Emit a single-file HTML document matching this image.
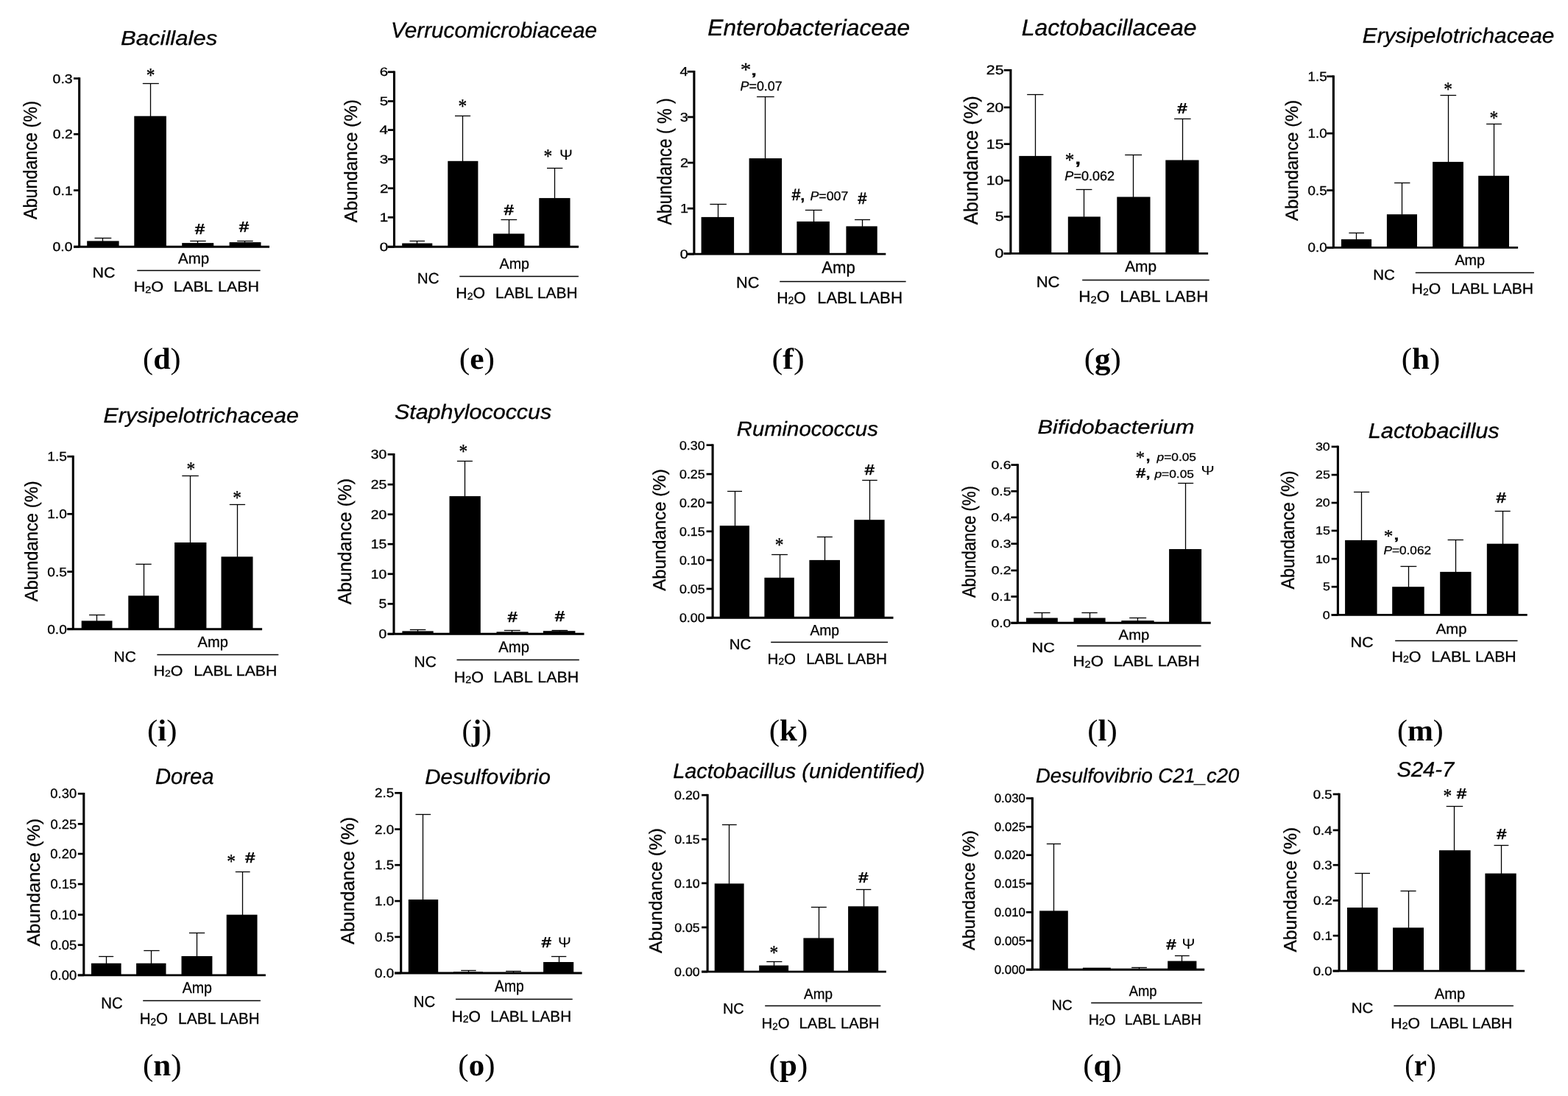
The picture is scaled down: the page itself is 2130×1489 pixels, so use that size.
<!DOCTYPE html>
<html><head><meta charset="utf-8"><title>Figure</title><style>html,body{margin:0;padding:0;background:#fff;overflow:hidden}svg{display:block}text{stroke:#000;stroke-width:0.3px;paint-order:stroke}</style></head><body>
<svg width="2130" height="1489" viewBox="0 0 2130 1489" shape-rendering="auto" text-rendering="geometricPrecision">
<rect width="2130" height="1489" fill="#fff"/>
<g id="panel-d">
<rect x="118.20" y="327.40" width="43.40" height="7.80" fill="#000"/>
<line x1="139.50" y1="327.90" x2="139.50" y2="323.50" stroke="#000" stroke-width="1.3"/>
<line x1="128.50" y1="323.50" x2="151.30" y2="323.50" stroke="#000" stroke-width="1.3"/>
<rect x="182.30" y="157.70" width="43.60" height="177.50" fill="#000"/>
<line x1="204.50" y1="158.20" x2="204.50" y2="113.50" stroke="#000" stroke-width="1.3"/>
<line x1="193.80" y1="113.50" x2="215.80" y2="113.50" stroke="#000" stroke-width="1.3"/>
<rect x="247.20" y="330.10" width="43.00" height="5.10" fill="#000"/>
<line x1="268.50" y1="330.60" x2="268.50" y2="327.50" stroke="#000" stroke-width="1.3"/>
<line x1="258.20" y1="327.50" x2="279.70" y2="327.50" stroke="#000" stroke-width="1.3"/>
<rect x="311.60" y="329.10" width="42.90" height="6.10" fill="#000"/>
<line x1="332.50" y1="329.60" x2="332.50" y2="327.50" stroke="#000" stroke-width="1.3"/>
<line x1="322.20" y1="327.50" x2="343.70" y2="327.50" stroke="#000" stroke-width="1.3"/>
<line x1="107.70" y1="105.25" x2="107.70" y2="335.20" stroke="#000" stroke-width="3.1"/>
<line x1="100.00" y1="106.60" x2="107.70" y2="106.60" stroke="#000" stroke-width="2.7"/>
<line x1="100.00" y1="182.30" x2="107.70" y2="182.30" stroke="#000" stroke-width="2.7"/>
<line x1="100.00" y1="258.60" x2="107.70" y2="258.60" stroke="#000" stroke-width="2.7"/>
<line x1="100.00" y1="335.20" x2="107.70" y2="335.20" stroke="#000" stroke-width="2.7"/>
<line x1="100.00" y1="335.20" x2="366.00" y2="335.20" stroke="#000" stroke-width="2.9"/>
<text transform="translate(71.62,112.53) scale(1.1328,1)" font-family="'Liberation Sans', Arial, sans-serif" font-size="17.18" fill="#000">0.3</text>
<text transform="translate(71.82,188.23) scale(1.1328,1)" font-family="'Liberation Sans', Arial, sans-serif" font-size="17.18" fill="#000">0.2</text>
<text transform="translate(71.72,264.53) scale(1.1328,1)" font-family="'Liberation Sans', Arial, sans-serif" font-size="17.18" fill="#000">0.1</text>
<text transform="translate(71.52,341.13) scale(1.1328,1)" font-family="'Liberation Sans', Arial, sans-serif" font-size="17.18" fill="#000">0.0</text>
<text transform="translate(198.72,111.42) scale(0.8664,1)" font-family="'Liberation Serif', 'Times New Roman', serif" font-size="27.12" fill="#000">*</text>
<text transform="translate(264.93,317.85) scale(1.1651,1)" font-family="'Liberation Sans', Arial, sans-serif" font-size="20.00" fill="#000" style="stroke-width:0.7px">#</text>
<text transform="translate(324.93,314.85) scale(1.1651,1)" font-family="'Liberation Sans', Arial, sans-serif" font-size="20.00" fill="#000" style="stroke-width:0.7px">#</text>
<text transform="translate(125.58,377.00) scale(1.0911,1)" font-family="'Liberation Sans', Arial, sans-serif" font-size="19.71" fill="#000">NC</text>
<text transform="translate(242.10,358.20) scale(1.0030,1)" font-family="'Liberation Sans', Arial, sans-serif" font-size="20.43" fill="#000">Amp</text>
<line x1="186.30" y1="367.50" x2="353.60" y2="367.50" stroke="#000" stroke-width="1.6"/>
<text transform="translate(181.66,396.10) scale(1.1182,1)" font-family="'Liberation Sans', Arial, sans-serif" font-size="19.43" fill="#000">H<tspan font-size="12.82" dy="1.65">2</tspan><tspan dy="-1.65">O</tspan></text>
<text transform="translate(235.86,396.10) scale(1.1038,1)" font-family="'Liberation Sans', Arial, sans-serif" font-size="19.71" fill="#000">LABL</text>
<text transform="translate(296.09,396.10) scale(1.0872,1)" font-family="'Liberation Sans', Arial, sans-serif" font-size="19.71" fill="#000">LABH</text>
<text transform="translate(49.66,298.10) rotate(-90) scale(0.9028,1)" font-family="'Liberation Sans', Arial, sans-serif" font-size="25.88" fill="#000">Abundance (%)</text>
<text transform="translate(163.97,61.00) scale(1.1359,1)" font-family="'Liberation Sans', Arial, sans-serif" font-style="italic" font-size="27.39" fill="#000">Bacillales</text>
<text transform="translate(194.10,500.86) scale(1.0247,1)" font-family="'Liberation Serif', 'Times New Roman', serif" font-size="41.10" fill="#000" style="stroke-width:0px">(<tspan font-weight="bold">d</tspan>)</text>
</g>
<g id="panel-e">
<rect x="546.20" y="330.50" width="41.10" height="4.80" fill="#000"/>
<line x1="566.50" y1="331.00" x2="566.50" y2="327.50" stroke="#000" stroke-width="1.3"/>
<line x1="556.50" y1="327.50" x2="577.00" y2="327.50" stroke="#000" stroke-width="1.3"/>
<rect x="608.30" y="218.80" width="41.10" height="116.50" fill="#000"/>
<line x1="628.50" y1="219.30" x2="628.50" y2="157.50" stroke="#000" stroke-width="1.3"/>
<line x1="618.00" y1="157.50" x2="639.10" y2="157.50" stroke="#000" stroke-width="1.3"/>
<rect x="670.00" y="317.50" width="42.40" height="17.80" fill="#000"/>
<line x1="691.50" y1="318.00" x2="691.50" y2="298.50" stroke="#000" stroke-width="1.3"/>
<line x1="680.50" y1="298.50" x2="702.20" y2="298.50" stroke="#000" stroke-width="1.3"/>
<rect x="732.30" y="269.10" width="42.20" height="66.20" fill="#000"/>
<line x1="753.50" y1="269.60" x2="753.50" y2="228.50" stroke="#000" stroke-width="1.3"/>
<line x1="743.00" y1="228.50" x2="764.30" y2="228.50" stroke="#000" stroke-width="1.3"/>
<line x1="535.50" y1="96.45" x2="535.50" y2="335.30" stroke="#000" stroke-width="3.1"/>
<line x1="526.80" y1="97.80" x2="535.50" y2="97.80" stroke="#000" stroke-width="2.7"/>
<line x1="526.80" y1="137.50" x2="535.50" y2="137.50" stroke="#000" stroke-width="2.7"/>
<line x1="526.80" y1="176.60" x2="535.50" y2="176.60" stroke="#000" stroke-width="2.7"/>
<line x1="526.80" y1="216.30" x2="535.50" y2="216.30" stroke="#000" stroke-width="2.7"/>
<line x1="526.80" y1="255.80" x2="535.50" y2="255.80" stroke="#000" stroke-width="2.7"/>
<line x1="526.80" y1="295.30" x2="535.50" y2="295.30" stroke="#000" stroke-width="2.7"/>
<line x1="526.80" y1="335.30" x2="535.50" y2="335.30" stroke="#000" stroke-width="2.7"/>
<line x1="526.80" y1="335.30" x2="786.00" y2="335.30" stroke="#000" stroke-width="2.9"/>
<text transform="translate(515.77,103.39) scale(1.2746,1)" font-family="'Liberation Sans', Arial, sans-serif" font-size="16.20" fill="#000">6</text>
<text transform="translate(515.77,143.09) scale(1.2567,1)" font-family="'Liberation Sans', Arial, sans-serif" font-size="16.43" fill="#000">5</text>
<text transform="translate(515.56,182.35) scale(1.2387,1)" font-family="'Liberation Sans', Arial, sans-serif" font-size="16.67" fill="#000">4</text>
<text transform="translate(515.77,221.89) scale(1.2746,1)" font-family="'Liberation Sans', Arial, sans-serif" font-size="16.20" fill="#000">3</text>
<text transform="translate(515.97,261.55) scale(1.2567,1)" font-family="'Liberation Sans', Arial, sans-serif" font-size="16.43" fill="#000">2</text>
<text transform="translate(515.87,301.05) scale(1.2387,1)" font-family="'Liberation Sans', Arial, sans-serif" font-size="16.67" fill="#000">1</text>
<text transform="translate(515.66,340.89) scale(1.2746,1)" font-family="'Liberation Sans', Arial, sans-serif" font-size="16.20" fill="#000">0</text>
<text transform="translate(622.52,153.32) scale(0.8664,1)" font-family="'Liberation Serif', 'Times New Roman', serif" font-size="27.12" fill="#000">*</text>
<text transform="translate(684.73,292.35) scale(1.1651,1)" font-family="'Liberation Sans', Arial, sans-serif" font-size="20.00" fill="#000" style="stroke-width:0.7px">#</text>
<text transform="translate(738.62,220.82) scale(0.8664,1)" font-family="'Liberation Serif', 'Times New Roman', serif" font-size="27.12" fill="#000">*</text>
<text transform="translate(760.05,216.60) scale(1.0877,1)" font-family="'Liberation Sans', Arial, sans-serif" font-size="19.71" fill="#000" style="stroke-width:0px">Ψ</text>
<text transform="translate(566.85,384.60) scale(1.0086,1)" font-family="'Liberation Sans', Arial, sans-serif" font-size="20.43" fill="#000">NC</text>
<text transform="translate(678.50,365.20) scale(0.9710,1)" font-family="'Liberation Sans', Arial, sans-serif" font-size="20.29" fill="#000">Amp</text>
<line x1="624.30" y1="375.50" x2="785.90" y2="375.50" stroke="#000" stroke-width="1.6"/>
<text transform="translate(619.30,404.80) scale(1.0409,1)" font-family="'Liberation Sans', Arial, sans-serif" font-size="20.43" fill="#000">H<tspan font-size="13.48" dy="1.74">2</tspan><tspan dy="-1.74">O</tspan></text>
<text transform="translate(673.12,404.80) scale(1.0105,1)" font-family="'Liberation Sans', Arial, sans-serif" font-size="20.72" fill="#000">LABL</text>
<text transform="translate(729.93,404.80) scale(1.0084,1)" font-family="'Liberation Sans', Arial, sans-serif" font-size="20.72" fill="#000">LABH</text>
<text transform="translate(484.93,302.30) rotate(-90) scale(0.9857,1)" font-family="'Liberation Sans', Arial, sans-serif" font-size="24.60" fill="#000">Abundance (%)</text>
<text transform="translate(530.97,51.00) scale(1.0117,1)" font-family="'Liberation Sans', Arial, sans-serif" font-style="italic" font-size="29.42" fill="#000">Verrucomicrobiaceae</text>
<text transform="translate(623.64,500.86) scale(1.0615,1)" font-family="'Liberation Serif', 'Times New Roman', serif" font-size="41.10" fill="#000" style="stroke-width:0px">(<tspan font-weight="bold">e</tspan>)</text>
</g>
<g id="panel-f">
<rect x="952.60" y="294.90" width="44.50" height="50.20" fill="#000"/>
<line x1="975.50" y1="295.40" x2="975.50" y2="277.50" stroke="#000" stroke-width="1.3"/>
<line x1="964.40" y1="277.50" x2="986.90" y2="277.50" stroke="#000" stroke-width="1.3"/>
<rect x="1017.60" y="215.10" width="44.50" height="130.00" fill="#000"/>
<line x1="1039.50" y1="215.60" x2="1039.50" y2="131.50" stroke="#000" stroke-width="1.3"/>
<line x1="1028.00" y1="131.50" x2="1051.70" y2="131.50" stroke="#000" stroke-width="1.3"/>
<rect x="1082.40" y="300.90" width="44.50" height="44.20" fill="#000"/>
<line x1="1105.50" y1="301.40" x2="1105.50" y2="285.50" stroke="#000" stroke-width="1.3"/>
<line x1="1093.80" y1="285.50" x2="1116.80" y2="285.50" stroke="#000" stroke-width="1.3"/>
<rect x="1149.40" y="307.40" width="42.30" height="37.70" fill="#000"/>
<line x1="1171.50" y1="307.90" x2="1171.50" y2="298.50" stroke="#000" stroke-width="1.3"/>
<line x1="1161.00" y1="298.50" x2="1182.00" y2="298.50" stroke="#000" stroke-width="1.3"/>
<line x1="942.90" y1="95.95" x2="942.90" y2="345.10" stroke="#000" stroke-width="3.1"/>
<line x1="933.70" y1="97.30" x2="942.90" y2="97.30" stroke="#000" stroke-width="2.7"/>
<line x1="933.70" y1="159.00" x2="942.90" y2="159.00" stroke="#000" stroke-width="2.7"/>
<line x1="933.70" y1="221.10" x2="942.90" y2="221.10" stroke="#000" stroke-width="2.7"/>
<line x1="933.70" y1="283.20" x2="942.90" y2="283.20" stroke="#000" stroke-width="2.7"/>
<line x1="933.70" y1="345.10" x2="942.90" y2="345.10" stroke="#000" stroke-width="2.7"/>
<line x1="933.70" y1="345.10" x2="1203.30" y2="345.10" stroke="#000" stroke-width="2.9"/>
<text transform="translate(923.60,103.30) scale(1.1386,1)" font-family="'Liberation Sans', Arial, sans-serif" font-size="17.39" fill="#000">4</text>
<text transform="translate(923.80,164.83) scale(1.1716,1)" font-family="'Liberation Sans', Arial, sans-serif" font-size="16.90" fill="#000">3</text>
<text transform="translate(924.00,227.10) scale(1.1551,1)" font-family="'Liberation Sans', Arial, sans-serif" font-size="17.14" fill="#000">2</text>
<text transform="translate(923.90,289.20) scale(1.1386,1)" font-family="'Liberation Sans', Arial, sans-serif" font-size="17.39" fill="#000">1</text>
<text transform="translate(923.70,350.93) scale(1.1716,1)" font-family="'Liberation Sans', Arial, sans-serif" font-size="16.90" fill="#000">0</text>
<text transform="translate(999.96,391.30) scale(1.0211,1)" font-family="'Liberation Sans', Arial, sans-serif" font-size="21.29" fill="#000">NC</text>
<text transform="translate(1116.20,371.10) scale(0.9666,1)" font-family="'Liberation Sans', Arial, sans-serif" font-size="22.90" fill="#000">Amp</text>
<line x1="1059.20" y1="382.50" x2="1230.60" y2="382.50" stroke="#000" stroke-width="1.6"/>
<text transform="translate(1055.20,411.60) scale(0.9793,1)" font-family="'Liberation Sans', Arial, sans-serif" font-size="21.71" fill="#000">H<tspan font-size="14.33" dy="1.85">2</tspan><tspan dy="-1.85">O</tspan></text>
<text transform="translate(1110.35,411.60) scale(0.9915,1)" font-family="'Liberation Sans', Arial, sans-serif" font-size="22.03" fill="#000">LABL</text>
<text transform="translate(1167.82,411.60) scale(1.0117,1)" font-family="'Liberation Sans', Arial, sans-serif" font-size="22.03" fill="#000">LABH</text>
<text transform="translate(1005.64,103.35) scale(1.1238,1)" font-family="'Liberation Serif', 'Times New Roman', serif" font-size="26.03" fill="#000">*</text>
<text transform="translate(1018.40,101.70) scale(1.6786,1)" font-family="'Liberation Sans', Arial, sans-serif" font-size="23.83" fill="#000">,</text>
<text transform="translate(1005.56,122.62) scale(0.9979,1)" font-family="'Liberation Sans', Arial, sans-serif" font-style="italic" font-size="17.89" fill="#000">P<tspan font-style="normal">=0.07</tspan></text>
<text transform="translate(1075.80,271.70) scale(0.9344,1)" font-family="'Liberation Sans', Arial, sans-serif" font-size="22.19" fill="#000" style="stroke-width:0.7px">#</text>
<text transform="translate(1086.11,271.84) scale(1.2347,1)" font-family="'Liberation Sans', Arial, sans-serif" font-size="25.11" fill="#000">,</text>
<text transform="translate(1100.47,271.53) scale(1.0413,1)" font-family="'Liberation Sans', Arial, sans-serif" font-style="italic" font-size="17.04" fill="#000">P<tspan font-style="normal">=007</tspan></text>
<text transform="translate(1165.39,276.50) scale(0.9509,1)" font-family="'Liberation Sans', Arial, sans-serif" font-size="22.19" fill="#000" style="stroke-width:0.7px">#</text>
<text transform="translate(911.87,305.60) rotate(-90) scale(0.8490,1)" font-family="'Liberation Sans', Arial, sans-serif" font-size="27.27" fill="#000">Abundance ( % )</text>
<text transform="translate(961.35,47.60) scale(1.0266,1)" font-family="'Liberation Sans', Arial, sans-serif" font-style="italic" font-size="30.87" fill="#000">Enterobacteriaceae</text>
<text transform="translate(1048.41,500.96) scale(1.0894,1)" font-family="'Liberation Serif', 'Times New Roman', serif" font-size="40.65" fill="#000" style="stroke-width:0px">(<tspan font-weight="bold">f</tspan>)</text>
</g>
<g id="panel-g">
<rect x="1384.30" y="211.90" width="44.00" height="132.50" fill="#000"/>
<line x1="1406.50" y1="212.40" x2="1406.50" y2="128.50" stroke="#000" stroke-width="1.3"/>
<line x1="1395.20" y1="128.50" x2="1417.40" y2="128.50" stroke="#000" stroke-width="1.3"/>
<rect x="1450.80" y="294.40" width="44.00" height="50.00" fill="#000"/>
<line x1="1472.50" y1="294.90" x2="1472.50" y2="257.50" stroke="#000" stroke-width="1.3"/>
<line x1="1461.70" y1="257.50" x2="1483.40" y2="257.50" stroke="#000" stroke-width="1.3"/>
<rect x="1517.30" y="267.50" width="45.20" height="76.90" fill="#000"/>
<line x1="1539.50" y1="268.00" x2="1539.50" y2="210.50" stroke="#000" stroke-width="1.3"/>
<line x1="1528.20" y1="210.50" x2="1551.10" y2="210.50" stroke="#000" stroke-width="1.3"/>
<rect x="1583.30" y="217.50" width="45.20" height="126.90" fill="#000"/>
<line x1="1606.50" y1="218.00" x2="1606.50" y2="161.50" stroke="#000" stroke-width="1.3"/>
<line x1="1595.10" y1="161.50" x2="1617.60" y2="161.50" stroke="#000" stroke-width="1.3"/>
<line x1="1372.90" y1="94.05" x2="1372.90" y2="344.40" stroke="#000" stroke-width="3.1"/>
<line x1="1363.70" y1="95.40" x2="1372.90" y2="95.40" stroke="#000" stroke-width="2.7"/>
<line x1="1363.70" y1="145.90" x2="1372.90" y2="145.90" stroke="#000" stroke-width="2.7"/>
<line x1="1363.70" y1="195.70" x2="1372.90" y2="195.70" stroke="#000" stroke-width="2.7"/>
<line x1="1363.70" y1="245.30" x2="1372.90" y2="245.30" stroke="#000" stroke-width="2.7"/>
<line x1="1363.70" y1="294.40" x2="1372.90" y2="294.40" stroke="#000" stroke-width="2.7"/>
<line x1="1363.70" y1="344.40" x2="1372.90" y2="344.40" stroke="#000" stroke-width="2.7"/>
<line x1="1363.70" y1="344.40" x2="1641.10" y2="344.40" stroke="#000" stroke-width="2.9"/>
<text transform="translate(1339.84,101.47) scale(1.2084,1)" font-family="'Liberation Sans', Arial, sans-serif" font-size="17.61" fill="#000">25</text>
<text transform="translate(1339.73,151.97) scale(1.2084,1)" font-family="'Liberation Sans', Arial, sans-serif" font-size="17.61" fill="#000">20</text>
<text transform="translate(1339.84,201.77) scale(1.1914,1)" font-family="'Liberation Sans', Arial, sans-serif" font-size="17.86" fill="#000">15</text>
<text transform="translate(1339.73,251.37) scale(1.2084,1)" font-family="'Liberation Sans', Arial, sans-serif" font-size="17.61" fill="#000">10</text>
<text transform="translate(1351.64,300.47) scale(1.1914,1)" font-family="'Liberation Sans', Arial, sans-serif" font-size="17.86" fill="#000">5</text>
<text transform="translate(1351.54,350.47) scale(1.2084,1)" font-family="'Liberation Sans', Arial, sans-serif" font-size="17.61" fill="#000">0</text>
<text transform="translate(1599.53,154.25) scale(1.1651,1)" font-family="'Liberation Sans', Arial, sans-serif" font-size="20.00" fill="#000" style="stroke-width:0.7px">#</text>
<text transform="translate(1407.63,389.80) scale(1.0675,1)" font-family="'Liberation Sans', Arial, sans-serif" font-size="20.71" fill="#000">NC</text>
<text transform="translate(1528.20,369.10) scale(0.9919,1)" font-family="'Liberation Sans', Arial, sans-serif" font-size="21.01" fill="#000">Amp</text>
<line x1="1470.20" y1="380.50" x2="1642.70" y2="380.50" stroke="#000" stroke-width="1.6"/>
<text transform="translate(1465.30,410.10) scale(1.0557,1)" font-family="'Liberation Sans', Arial, sans-serif" font-size="21.29" fill="#000">H<tspan font-size="14.05" dy="1.81">2</tspan><tspan dy="-1.81">O</tspan></text>
<text transform="translate(1521.19,410.10) scale(1.0472,1)" font-family="'Liberation Sans', Arial, sans-serif" font-size="21.59" fill="#000">LABL</text>
<text transform="translate(1583.12,410.10) scale(1.0301,1)" font-family="'Liberation Sans', Arial, sans-serif" font-size="21.59" fill="#000">LABH</text>
<text transform="translate(1446.64,226.27) scale(0.9309,1)" font-family="'Liberation Serif', 'Times New Roman', serif" font-size="27.12" fill="#000">*</text>
<text transform="translate(1458.51,223.03) scale(1.3764,1)" font-family="'Liberation Sans', Arial, sans-serif" font-size="29.79" fill="#000">,</text>
<text transform="translate(1446.36,244.72) scale(1.0164,1)" font-family="'Liberation Sans', Arial, sans-serif" font-style="italic" font-size="17.75" fill="#000">P<tspan font-style="normal">=0.062</tspan></text>
<text transform="translate(1328.43,305.30) rotate(-90) scale(0.9577,1)" font-family="'Liberation Sans', Arial, sans-serif" font-size="26.52" fill="#000">Abundance (%)</text>
<text transform="translate(1387.64,47.50) scale(1.0295,1)" font-family="'Liberation Sans', Arial, sans-serif" font-style="italic" font-size="31.01" fill="#000">Lactobacillaceae</text>
<text transform="translate(1472.67,500.71) scale(1.0511,1)" font-family="'Liberation Serif', 'Times New Roman', serif" font-size="40.87" fill="#000" style="stroke-width:0px">(<tspan font-weight="bold">g</tspan>)</text>
</g>
<g id="panel-h">
<rect x="1822.00" y="325.10" width="41.10" height="11.30" fill="#000"/>
<line x1="1842.50" y1="325.60" x2="1842.50" y2="316.50" stroke="#000" stroke-width="1.3"/>
<line x1="1832.40" y1="316.50" x2="1853.00" y2="316.50" stroke="#000" stroke-width="1.3"/>
<rect x="1883.90" y="291.20" width="41.10" height="45.20" fill="#000"/>
<line x1="1904.50" y1="291.70" x2="1904.50" y2="248.50" stroke="#000" stroke-width="1.3"/>
<line x1="1894.10" y1="248.50" x2="1915.40" y2="248.50" stroke="#000" stroke-width="1.3"/>
<rect x="1946.10" y="219.90" width="41.80" height="116.50" fill="#000"/>
<line x1="1967.50" y1="220.40" x2="1967.50" y2="129.50" stroke="#000" stroke-width="1.3"/>
<line x1="1956.50" y1="129.50" x2="1978.20" y2="129.50" stroke="#000" stroke-width="1.3"/>
<rect x="2008.20" y="238.80" width="41.80" height="97.60" fill="#000"/>
<line x1="2029.50" y1="239.30" x2="2029.50" y2="168.50" stroke="#000" stroke-width="1.3"/>
<line x1="2019.10" y1="168.50" x2="2039.90" y2="168.50" stroke="#000" stroke-width="1.3"/>
<line x1="1811.40" y1="102.45" x2="1811.40" y2="336.40" stroke="#000" stroke-width="3.1"/>
<line x1="1802.20" y1="103.80" x2="1811.40" y2="103.80" stroke="#000" stroke-width="2.7"/>
<line x1="1802.20" y1="181.20" x2="1811.40" y2="181.20" stroke="#000" stroke-width="2.7"/>
<line x1="1802.20" y1="258.60" x2="1811.40" y2="258.60" stroke="#000" stroke-width="2.7"/>
<line x1="1802.20" y1="336.40" x2="1811.40" y2="336.40" stroke="#000" stroke-width="2.7"/>
<line x1="1802.20" y1="336.40" x2="2062.10" y2="336.40" stroke="#000" stroke-width="2.9"/>
<text transform="translate(1776.59,109.87) scale(1.0541,1)" font-family="'Liberation Sans', Arial, sans-serif" font-size="17.86" fill="#000">1.5</text>
<text transform="translate(1776.49,187.27) scale(1.0692,1)" font-family="'Liberation Sans', Arial, sans-serif" font-size="17.61" fill="#000">1.0</text>
<text transform="translate(1776.59,264.67) scale(1.0692,1)" font-family="'Liberation Sans', Arial, sans-serif" font-size="17.61" fill="#000">0.5</text>
<text transform="translate(1776.49,342.47) scale(1.0692,1)" font-family="'Liberation Sans', Arial, sans-serif" font-size="17.61" fill="#000">0.0</text>
<text transform="translate(1961.22,129.92) scale(0.8664,1)" font-family="'Liberation Serif', 'Times New Roman', serif" font-size="27.12" fill="#000">*</text>
<text transform="translate(2023.62,168.62) scale(0.8664,1)" font-family="'Liberation Serif', 'Times New Roman', serif" font-size="27.12" fill="#000">*</text>
<text transform="translate(1865.16,379.80) scale(1.0489,1)" font-family="'Liberation Sans', Arial, sans-serif" font-size="19.57" fill="#000">NC</text>
<text transform="translate(1976.40,360.00) scale(0.9901,1)" font-family="'Liberation Sans', Arial, sans-serif" font-size="20.00" fill="#000">Amp</text>
<line x1="1922.80" y1="370.50" x2="2083.90" y2="370.50" stroke="#000" stroke-width="1.6"/>
<text transform="translate(1917.60,399.00) scale(1.0528,1)" font-family="'Liberation Sans', Arial, sans-serif" font-size="20.14" fill="#000">H<tspan font-size="13.29" dy="1.71">2</tspan><tspan dy="-1.71">O</tspan></text>
<text transform="translate(1971.22,399.00) scale(1.0290,1)" font-family="'Liberation Sans', Arial, sans-serif" font-size="20.43" fill="#000">LABL</text>
<text transform="translate(2027.92,399.00) scale(1.0307,1)" font-family="'Liberation Sans', Arial, sans-serif" font-size="20.43" fill="#000">LABH</text>
<text transform="translate(1763.27,299.90) rotate(-90) scale(0.9937,1)" font-family="'Liberation Sans', Arial, sans-serif" font-size="23.96" fill="#000">Abundance (%)</text>
<text transform="translate(1850.80,58.20) scale(1.0463,1)" font-family="'Liberation Sans', Arial, sans-serif" font-style="italic" font-size="28.55" fill="#000">Erysipelotrichaceae</text>
<text transform="translate(1903.67,500.86) scale(1.0461,1)" font-family="'Liberation Serif', 'Times New Roman', serif" font-size="41.10" fill="#000" style="stroke-width:0px">(<tspan font-weight="bold">h</tspan>)</text>
</g>
<g id="panel-i">
<rect x="110.70" y="843.40" width="41.80" height="11.30" fill="#000"/>
<line x1="131.50" y1="843.90" x2="131.50" y2="835.50" stroke="#000" stroke-width="1.3"/>
<line x1="121.10" y1="835.50" x2="142.60" y2="835.50" stroke="#000" stroke-width="1.3"/>
<rect x="174.30" y="809.30" width="41.50" height="45.40" fill="#000"/>
<line x1="195.50" y1="809.80" x2="195.50" y2="766.50" stroke="#000" stroke-width="1.3"/>
<line x1="184.40" y1="766.50" x2="205.70" y2="766.50" stroke="#000" stroke-width="1.3"/>
<rect x="237.10" y="737.00" width="43.30" height="117.70" fill="#000"/>
<line x1="258.50" y1="737.50" x2="258.50" y2="646.50" stroke="#000" stroke-width="1.3"/>
<line x1="247.30" y1="646.50" x2="269.80" y2="646.50" stroke="#000" stroke-width="1.3"/>
<rect x="300.50" y="756.30" width="43.00" height="98.40" fill="#000"/>
<line x1="322.50" y1="756.80" x2="322.50" y2="685.50" stroke="#000" stroke-width="1.3"/>
<line x1="311.80" y1="685.50" x2="333.10" y2="685.50" stroke="#000" stroke-width="1.3"/>
<line x1="99.30" y1="618.85" x2="99.30" y2="854.70" stroke="#000" stroke-width="3.1"/>
<line x1="91.30" y1="620.20" x2="99.30" y2="620.20" stroke="#000" stroke-width="2.7"/>
<line x1="91.30" y1="698.30" x2="99.30" y2="698.30" stroke="#000" stroke-width="2.7"/>
<line x1="91.30" y1="776.70" x2="99.30" y2="776.70" stroke="#000" stroke-width="2.7"/>
<line x1="91.30" y1="854.70" x2="99.30" y2="854.70" stroke="#000" stroke-width="2.7"/>
<line x1="91.30" y1="854.70" x2="356.10" y2="854.70" stroke="#000" stroke-width="2.9"/>
<text transform="translate(64.26,626.13) scale(1.1025,1)" font-family="'Liberation Sans', Arial, sans-serif" font-size="17.43" fill="#000">1.5</text>
<text transform="translate(64.16,704.23) scale(1.1183,1)" font-family="'Liberation Sans', Arial, sans-serif" font-size="17.18" fill="#000">1.0</text>
<text transform="translate(64.26,782.63) scale(1.1183,1)" font-family="'Liberation Sans', Arial, sans-serif" font-size="17.18" fill="#000">0.5</text>
<text transform="translate(64.16,860.63) scale(1.1183,1)" font-family="'Liberation Sans', Arial, sans-serif" font-size="17.18" fill="#000">0.0</text>
<text transform="translate(253.52,646.32) scale(0.8664,1)" font-family="'Liberation Serif', 'Times New Roman', serif" font-size="27.12" fill="#000">*</text>
<text transform="translate(316.32,685.02) scale(0.8664,1)" font-family="'Liberation Serif', 'Times New Roman', serif" font-size="27.12" fill="#000">*</text>
<text transform="translate(154.52,899.00) scale(1.0416,1)" font-family="'Liberation Sans', Arial, sans-serif" font-size="20.14" fill="#000">NC</text>
<text transform="translate(268.50,879.10) scale(0.9836,1)" font-family="'Liberation Sans', Arial, sans-serif" font-size="20.43" fill="#000">Amp</text>
<line x1="213.40" y1="889.50" x2="378.30" y2="889.50" stroke="#000" stroke-width="1.6"/>
<text transform="translate(208.49,917.80) scale(1.1086,1)" font-family="'Liberation Sans', Arial, sans-serif" font-size="19.29" fill="#000">H<tspan font-size="12.73" dy="1.64">2</tspan><tspan dy="-1.64">O</tspan></text>
<text transform="translate(263.29,917.80) scale(1.0923,1)" font-family="'Liberation Sans', Arial, sans-serif" font-size="19.57" fill="#000">LABL</text>
<text transform="translate(320.80,917.80) scale(1.0890,1)" font-family="'Liberation Sans', Arial, sans-serif" font-size="19.57" fill="#000">LABH</text>
<text transform="translate(51.09,817.30) rotate(-90) scale(0.9595,1)" font-family="'Liberation Sans', Arial, sans-serif" font-size="24.81" fill="#000">Abundance (%)</text>
<text transform="translate(140.49,574.20) scale(1.0704,1)" font-family="'Liberation Sans', Arial, sans-serif" font-style="italic" font-size="28.41" fill="#000">Erysipelotrichaceae</text>
<text transform="translate(200.07,1006.36) scale(1.0416,1)" font-family="'Liberation Serif', 'Times New Roman', serif" font-size="41.10" fill="#000" style="stroke-width:0px">(<tspan font-weight="bold">i</tspan>)</text>
</g>
<g id="panel-j">
<rect x="546.40" y="857.40" width="42.30" height="3.90" fill="#000"/>
<line x1="567.50" y1="857.90" x2="567.50" y2="855.50" stroke="#000" stroke-width="1.3"/>
<line x1="556.80" y1="855.50" x2="578.30" y2="855.50" stroke="#000" stroke-width="1.3"/>
<rect x="610.50" y="674.10" width="42.30" height="187.20" fill="#000"/>
<line x1="631.50" y1="674.60" x2="631.50" y2="626.50" stroke="#000" stroke-width="1.3"/>
<line x1="620.90" y1="626.50" x2="641.90" y2="626.50" stroke="#000" stroke-width="1.3"/>
<rect x="674.50" y="858.40" width="43.10" height="2.90" fill="#000"/>
<line x1="695.50" y1="858.90" x2="695.50" y2="856.50" stroke="#000" stroke-width="1.3"/>
<line x1="684.90" y1="856.50" x2="706.70" y2="856.50" stroke="#000" stroke-width="1.3"/>
<rect x="737.90" y="857.20" width="43.50" height="4.10" fill="#000"/>
<line x1="760.50" y1="857.70" x2="760.50" y2="856.50" stroke="#000" stroke-width="1.3"/>
<line x1="749.50" y1="856.50" x2="771.20" y2="856.50" stroke="#000" stroke-width="1.3"/>
<line x1="535.00" y1="615.95" x2="535.00" y2="861.30" stroke="#000" stroke-width="3.1"/>
<line x1="526.60" y1="617.30" x2="535.00" y2="617.30" stroke="#000" stroke-width="2.7"/>
<line x1="526.60" y1="658.20" x2="535.00" y2="658.20" stroke="#000" stroke-width="2.7"/>
<line x1="526.60" y1="698.80" x2="535.00" y2="698.80" stroke="#000" stroke-width="2.7"/>
<line x1="526.60" y1="739.20" x2="535.00" y2="739.20" stroke="#000" stroke-width="2.7"/>
<line x1="526.60" y1="779.80" x2="535.00" y2="779.80" stroke="#000" stroke-width="2.7"/>
<line x1="526.60" y1="820.40" x2="535.00" y2="820.40" stroke="#000" stroke-width="2.7"/>
<line x1="526.60" y1="861.30" x2="535.00" y2="861.30" stroke="#000" stroke-width="2.7"/>
<line x1="526.60" y1="861.30" x2="793.50" y2="861.30" stroke="#000" stroke-width="2.9"/>
<text transform="translate(503.73,623.28) scale(1.1154,1)" font-family="'Liberation Sans', Arial, sans-serif" font-size="17.32" fill="#000">30</text>
<text transform="translate(503.82,664.18) scale(1.1154,1)" font-family="'Liberation Sans', Arial, sans-serif" font-size="17.32" fill="#000">25</text>
<text transform="translate(503.73,704.78) scale(1.1154,1)" font-family="'Liberation Sans', Arial, sans-serif" font-size="17.32" fill="#000">20</text>
<text transform="translate(503.82,745.17) scale(1.0997,1)" font-family="'Liberation Sans', Arial, sans-serif" font-size="17.57" fill="#000">15</text>
<text transform="translate(503.73,785.78) scale(1.1154,1)" font-family="'Liberation Sans', Arial, sans-serif" font-size="17.32" fill="#000">10</text>
<text transform="translate(514.55,826.37) scale(1.0997,1)" font-family="'Liberation Sans', Arial, sans-serif" font-size="17.57" fill="#000">5</text>
<text transform="translate(514.45,867.28) scale(1.1154,1)" font-family="'Liberation Sans', Arial, sans-serif" font-size="17.32" fill="#000">0</text>
<text transform="translate(623.42,621.72) scale(0.8664,1)" font-family="'Liberation Serif', 'Times New Roman', serif" font-size="27.12" fill="#000">*</text>
<text transform="translate(689.83,844.65) scale(1.1651,1)" font-family="'Liberation Sans', Arial, sans-serif" font-size="20.00" fill="#000" style="stroke-width:0.7px">#</text>
<text transform="translate(753.93,843.95) scale(1.1651,1)" font-family="'Liberation Sans', Arial, sans-serif" font-size="20.00" fill="#000" style="stroke-width:0.7px">#</text>
<text transform="translate(562.52,905.80) scale(1.0199,1)" font-family="'Liberation Sans', Arial, sans-serif" font-size="20.57" fill="#000">NC</text>
<text transform="translate(677.30,886.10) scale(0.9569,1)" font-family="'Liberation Sans', Arial, sans-serif" font-size="21.16" fill="#000">Amp</text>
<line x1="620.50" y1="896.50" x2="786.80" y2="896.50" stroke="#000" stroke-width="1.6"/>
<text transform="translate(616.68,926.60) scale(1.0333,1)" font-family="'Liberation Sans', Arial, sans-serif" font-size="20.86" fill="#000">H<tspan font-size="13.77" dy="1.77">2</tspan><tspan dy="-1.77">O</tspan></text>
<text transform="translate(670.35,926.60) scale(1.0322,1)" font-family="'Liberation Sans', Arial, sans-serif" font-size="21.16" fill="#000">LABL</text>
<text transform="translate(730.29,926.60) scale(1.0127,1)" font-family="'Liberation Sans', Arial, sans-serif" font-size="21.16" fill="#000">LABH</text>
<text transform="translate(476.70,821.20) rotate(-90) scale(0.9844,1)" font-family="'Liberation Sans', Arial, sans-serif" font-size="25.24" fill="#000">Abundance (%)</text>
<text transform="translate(535.89,568.90) scale(1.0881,1)" font-family="'Liberation Sans', Arial, sans-serif" font-style="italic" font-size="28.00" fill="#000">Staphylococcus</text>
<text transform="translate(627.39,1006.36) scale(0.9786,1)" font-family="'Liberation Serif', 'Times New Roman', serif" font-size="41.10" fill="#000" style="stroke-width:0px">(<tspan font-weight="bold">j</tspan>)</text>
</g>
<g id="panel-k">
<rect x="977.70" y="714.20" width="40.20" height="125.00" fill="#000"/>
<line x1="998.50" y1="714.70" x2="998.50" y2="667.50" stroke="#000" stroke-width="1.3"/>
<line x1="988.10" y1="667.50" x2="1008.00" y2="667.50" stroke="#000" stroke-width="1.3"/>
<rect x="1038.40" y="784.80" width="40.40" height="54.40" fill="#000"/>
<line x1="1059.50" y1="785.30" x2="1059.50" y2="753.50" stroke="#000" stroke-width="1.3"/>
<line x1="1048.10" y1="753.50" x2="1069.90" y2="753.50" stroke="#000" stroke-width="1.3"/>
<rect x="1099.40" y="760.90" width="41.60" height="78.30" fill="#000"/>
<line x1="1120.50" y1="761.40" x2="1120.50" y2="729.50" stroke="#000" stroke-width="1.3"/>
<line x1="1109.80" y1="729.50" x2="1130.80" y2="729.50" stroke="#000" stroke-width="1.3"/>
<rect x="1160.30" y="706.20" width="41.30" height="133.00" fill="#000"/>
<line x1="1181.50" y1="706.70" x2="1181.50" y2="652.50" stroke="#000" stroke-width="1.3"/>
<line x1="1171.20" y1="652.50" x2="1191.70" y2="652.50" stroke="#000" stroke-width="1.3"/>
<line x1="968.10" y1="603.35" x2="968.10" y2="839.20" stroke="#000" stroke-width="3.1"/>
<line x1="959.60" y1="604.70" x2="968.10" y2="604.70" stroke="#000" stroke-width="2.7"/>
<line x1="959.60" y1="644.10" x2="968.10" y2="644.10" stroke="#000" stroke-width="2.7"/>
<line x1="959.60" y1="682.80" x2="968.10" y2="682.80" stroke="#000" stroke-width="2.7"/>
<line x1="959.60" y1="721.90" x2="968.10" y2="721.90" stroke="#000" stroke-width="2.7"/>
<line x1="959.60" y1="760.90" x2="968.10" y2="760.90" stroke="#000" stroke-width="2.7"/>
<line x1="959.60" y1="800.00" x2="968.10" y2="800.00" stroke="#000" stroke-width="2.7"/>
<line x1="959.60" y1="839.20" x2="968.10" y2="839.20" stroke="#000" stroke-width="2.7"/>
<line x1="959.60" y1="839.20" x2="1213.50" y2="839.20" stroke="#000" stroke-width="2.9"/>
<text transform="translate(922.89,610.53) scale(1.0568,1)" font-family="'Liberation Sans', Arial, sans-serif" font-size="16.90" fill="#000">0.30</text>
<text transform="translate(922.97,649.93) scale(1.0568,1)" font-family="'Liberation Sans', Arial, sans-serif" font-size="16.90" fill="#000">0.25</text>
<text transform="translate(922.89,688.63) scale(1.0568,1)" font-family="'Liberation Sans', Arial, sans-serif" font-size="16.90" fill="#000">0.20</text>
<text transform="translate(922.97,727.73) scale(1.0568,1)" font-family="'Liberation Sans', Arial, sans-serif" font-size="16.90" fill="#000">0.15</text>
<text transform="translate(922.89,766.73) scale(1.0568,1)" font-family="'Liberation Sans', Arial, sans-serif" font-size="16.90" fill="#000">0.10</text>
<text transform="translate(922.97,805.83) scale(1.0568,1)" font-family="'Liberation Sans', Arial, sans-serif" font-size="16.90" fill="#000">0.05</text>
<text transform="translate(922.89,845.03) scale(1.0568,1)" font-family="'Liberation Sans', Arial, sans-serif" font-size="16.90" fill="#000">0.00</text>
<text transform="translate(1052.83,748.82) scale(0.8664,1)" font-family="'Liberation Serif', 'Times New Roman', serif" font-size="27.12" fill="#000">*</text>
<text transform="translate(1174.63,644.85) scale(1.1651,1)" font-family="'Liberation Sans', Arial, sans-serif" font-size="20.00" fill="#000" style="stroke-width:0.7px">#</text>
<text transform="translate(990.77,881.70) scale(1.0336,1)" font-family="'Liberation Sans', Arial, sans-serif" font-size="19.71" fill="#000">NC</text>
<text transform="translate(1100.40,862.50) scale(0.9515,1)" font-family="'Liberation Sans', Arial, sans-serif" font-size="20.29" fill="#000">Amp</text>
<line x1="1047.20" y1="872.50" x2="1206.00" y2="872.50" stroke="#000" stroke-width="1.6"/>
<text transform="translate(1042.55,901.60) scale(1.0214,1)" font-family="'Liberation Sans', Arial, sans-serif" font-size="20.14" fill="#000">H<tspan font-size="13.29" dy="1.71">2</tspan><tspan dy="-1.71">O</tspan></text>
<text transform="translate(1095.15,901.60) scale(1.0102,1)" font-family="'Liberation Sans', Arial, sans-serif" font-size="20.43" fill="#000">LABL</text>
<text transform="translate(1150.84,901.60) scale(1.0147,1)" font-family="'Liberation Sans', Arial, sans-serif" font-size="20.43" fill="#000">LABH</text>
<text transform="translate(904.48,802.70) rotate(-90) scale(0.9841,1)" font-family="'Liberation Sans', Arial, sans-serif" font-size="24.39" fill="#000">Abundance (%)</text>
<text transform="translate(1000.82,591.90) scale(1.0577,1)" font-family="'Liberation Sans', Arial, sans-serif" font-style="italic" font-size="27.68" fill="#000">Ruminococcus</text>
<text transform="translate(1044.67,1006.36) scale(1.0461,1)" font-family="'Liberation Serif', 'Times New Roman', serif" font-size="41.10" fill="#000" style="stroke-width:0px">(<tspan font-weight="bold">k</tspan>)</text>
</g>
<g id="panel-l">
<rect x="1394.00" y="839.50" width="42.80" height="6.80" fill="#000"/>
<line x1="1415.50" y1="840.00" x2="1415.50" y2="832.50" stroke="#000" stroke-width="1.3"/>
<line x1="1404.40" y1="832.50" x2="1426.60" y2="832.50" stroke="#000" stroke-width="1.3"/>
<rect x="1458.50" y="839.50" width="43.10" height="6.80" fill="#000"/>
<line x1="1480.50" y1="840.00" x2="1480.50" y2="832.50" stroke="#000" stroke-width="1.3"/>
<line x1="1469.40" y1="832.50" x2="1490.70" y2="832.50" stroke="#000" stroke-width="1.3"/>
<rect x="1523.30" y="843.10" width="44.30" height="3.20" fill="#000"/>
<line x1="1545.50" y1="843.60" x2="1545.50" y2="839.50" stroke="#000" stroke-width="1.3"/>
<line x1="1534.20" y1="839.50" x2="1557.20" y2="839.50" stroke="#000" stroke-width="1.3"/>
<rect x="1588.10" y="746.00" width="44.00" height="100.30" fill="#000"/>
<line x1="1610.50" y1="746.50" x2="1610.50" y2="656.50" stroke="#000" stroke-width="1.3"/>
<line x1="1600.20" y1="656.50" x2="1621.20" y2="656.50" stroke="#000" stroke-width="1.3"/>
<line x1="1382.40" y1="630.25" x2="1382.40" y2="846.30" stroke="#000" stroke-width="3.1"/>
<line x1="1373.40" y1="631.60" x2="1382.40" y2="631.60" stroke="#000" stroke-width="2.7"/>
<line x1="1373.40" y1="667.40" x2="1382.40" y2="667.40" stroke="#000" stroke-width="2.7"/>
<line x1="1373.40" y1="702.90" x2="1382.40" y2="702.90" stroke="#000" stroke-width="2.7"/>
<line x1="1373.40" y1="738.70" x2="1382.40" y2="738.70" stroke="#000" stroke-width="2.7"/>
<line x1="1373.40" y1="775.00" x2="1382.40" y2="775.00" stroke="#000" stroke-width="2.7"/>
<line x1="1373.40" y1="810.50" x2="1382.40" y2="810.50" stroke="#000" stroke-width="2.7"/>
<line x1="1373.40" y1="846.30" x2="1382.40" y2="846.30" stroke="#000" stroke-width="2.7"/>
<line x1="1373.40" y1="846.30" x2="1644.70" y2="846.30" stroke="#000" stroke-width="2.9"/>
<text transform="translate(1346.53,636.90) scale(1.2580,1)" font-family="'Liberation Sans', Arial, sans-serif" font-size="15.35" fill="#000">0.6</text>
<text transform="translate(1346.53,672.70) scale(1.2580,1)" font-family="'Liberation Sans', Arial, sans-serif" font-size="15.35" fill="#000">0.5</text>
<text transform="translate(1346.33,708.20) scale(1.2580,1)" font-family="'Liberation Sans', Arial, sans-serif" font-size="15.35" fill="#000">0.4</text>
<text transform="translate(1346.53,744.00) scale(1.2580,1)" font-family="'Liberation Sans', Arial, sans-serif" font-size="15.35" fill="#000">0.3</text>
<text transform="translate(1346.72,780.30) scale(1.2580,1)" font-family="'Liberation Sans', Arial, sans-serif" font-size="15.35" fill="#000">0.2</text>
<text transform="translate(1346.62,815.80) scale(1.2580,1)" font-family="'Liberation Sans', Arial, sans-serif" font-size="15.35" fill="#000">0.1</text>
<text transform="translate(1346.43,851.60) scale(1.2580,1)" font-family="'Liberation Sans', Arial, sans-serif" font-size="15.35" fill="#000">0.0</text>
<text transform="translate(1631.47,645.30) scale(1.2472,1)" font-family="'Liberation Sans', Arial, sans-serif" font-size="17.54" fill="#000" style="stroke-width:0px">Ψ</text>
<text transform="translate(1401.46,886.10) scale(1.1795,1)" font-family="'Liberation Sans', Arial, sans-serif" font-size="18.43" fill="#000">NC</text>
<text transform="translate(1519.60,869.10) scale(1.0374,1)" font-family="'Liberation Sans', Arial, sans-serif" font-size="19.57" fill="#000">Amp</text>
<line x1="1463.10" y1="877.50" x2="1631.50" y2="877.50" stroke="#000" stroke-width="1.6"/>
<text transform="translate(1457.52,904.90) scale(1.1042,1)" font-family="'Liberation Sans', Arial, sans-serif" font-size="20.14" fill="#000">H<tspan font-size="13.29" dy="1.71">2</tspan><tspan dy="-1.71">O</tspan></text>
<text transform="translate(1512.74,904.90) scale(1.0751,1)" font-family="'Liberation Sans', Arial, sans-serif" font-size="20.43" fill="#000">LABL</text>
<text transform="translate(1572.86,904.90) scale(1.0666,1)" font-family="'Liberation Sans', Arial, sans-serif" font-size="20.43" fill="#000">LABH</text>
<text transform="translate(1542.76,629.25) scale(1.0628,1)" font-family="'Liberation Serif', 'Times New Roman', serif" font-size="23.29" fill="#000">*</text>
<text transform="translate(1555.31,626.24) scale(1.2347,1)" font-family="'Liberation Sans', Arial, sans-serif" font-size="25.11" fill="#000">,</text>
<text transform="translate(1571.53,625.78) scale(1.1681,1)" font-family="'Liberation Sans', Arial, sans-serif" font-style="italic" font-size="14.84" fill="#000">p<tspan font-style="normal">=0.05</tspan></text>
<text transform="translate(1543.39,648.70) scale(1.2173,1)" font-family="'Liberation Sans', Arial, sans-serif" font-size="18.54" fill="#000" style="stroke-width:0.7px">#</text>
<text transform="translate(1555.31,648.98) scale(1.4284,1)" font-family="'Liberation Sans', Arial, sans-serif" font-size="21.70" fill="#000">,</text>
<text transform="translate(1568.43,648.51) scale(1.1768,1)" font-family="'Liberation Sans', Arial, sans-serif" font-style="italic" font-size="14.73" fill="#000">p<tspan font-style="normal">=0.05</tspan></text>
<text transform="translate(1324.61,812.10) rotate(-90) scale(0.8596,1)" font-family="'Liberation Sans', Arial, sans-serif" font-size="25.67" fill="#000">Abundance (%)</text>
<text transform="translate(1409.47,589.40) scale(1.1721,1)" font-family="'Liberation Sans', Arial, sans-serif" font-style="italic" font-size="26.38" fill="#000">Bifidobacterium</text>
<text transform="translate(1477.27,1006.36) scale(1.0416,1)" font-family="'Liberation Serif', 'Times New Roman', serif" font-size="41.10" fill="#000" style="stroke-width:0px">(<tspan font-weight="bold">l</tspan>)</text>
</g>
<g id="panel-m">
<rect x="1827.10" y="733.90" width="43.50" height="101.50" fill="#000"/>
<line x1="1849.50" y1="734.40" x2="1849.50" y2="668.50" stroke="#000" stroke-width="1.3"/>
<line x1="1839.00" y1="668.50" x2="1860.20" y2="668.50" stroke="#000" stroke-width="1.3"/>
<rect x="1891.20" y="797.20" width="43.50" height="38.20" fill="#000"/>
<line x1="1913.50" y1="797.70" x2="1913.50" y2="769.50" stroke="#000" stroke-width="1.3"/>
<line x1="1902.50" y1="769.50" x2="1924.30" y2="769.50" stroke="#000" stroke-width="1.3"/>
<rect x="1956.20" y="776.90" width="42.30" height="58.50" fill="#000"/>
<line x1="1977.50" y1="777.40" x2="1977.50" y2="733.50" stroke="#000" stroke-width="1.3"/>
<line x1="1966.60" y1="733.50" x2="1987.90" y2="733.50" stroke="#000" stroke-width="1.3"/>
<rect x="2019.80" y="738.70" width="42.80" height="96.70" fill="#000"/>
<line x1="2041.50" y1="739.20" x2="2041.50" y2="694.50" stroke="#000" stroke-width="1.3"/>
<line x1="2030.70" y1="694.50" x2="2051.70" y2="694.50" stroke="#000" stroke-width="1.3"/>
<line x1="1817.40" y1="605.55" x2="1817.40" y2="835.40" stroke="#000" stroke-width="3.1"/>
<line x1="1808.70" y1="606.90" x2="1817.40" y2="606.90" stroke="#000" stroke-width="2.7"/>
<line x1="1808.70" y1="645.10" x2="1817.40" y2="645.10" stroke="#000" stroke-width="2.7"/>
<line x1="1808.70" y1="683.10" x2="1817.40" y2="683.10" stroke="#000" stroke-width="2.7"/>
<line x1="1808.70" y1="721.00" x2="1817.40" y2="721.00" stroke="#000" stroke-width="2.7"/>
<line x1="1808.70" y1="759.20" x2="1817.40" y2="759.20" stroke="#000" stroke-width="2.7"/>
<line x1="1808.70" y1="797.20" x2="1817.40" y2="797.20" stroke="#000" stroke-width="2.7"/>
<line x1="1808.70" y1="835.40" x2="1817.40" y2="835.40" stroke="#000" stroke-width="2.7"/>
<line x1="1808.70" y1="835.40" x2="2074.70" y2="835.40" stroke="#000" stroke-width="2.9"/>
<text transform="translate(1786.89,612.20) scale(1.1643,1)" font-family="'Liberation Sans', Arial, sans-serif" font-size="15.35" fill="#000">30</text>
<text transform="translate(1786.97,650.40) scale(1.1643,1)" font-family="'Liberation Sans', Arial, sans-serif" font-size="15.35" fill="#000">25</text>
<text transform="translate(1786.89,688.40) scale(1.1643,1)" font-family="'Liberation Sans', Arial, sans-serif" font-size="15.35" fill="#000">20</text>
<text transform="translate(1786.97,726.29) scale(1.1479,1)" font-family="'Liberation Sans', Arial, sans-serif" font-size="15.57" fill="#000">15</text>
<text transform="translate(1786.89,764.50) scale(1.1643,1)" font-family="'Liberation Sans', Arial, sans-serif" font-size="15.35" fill="#000">10</text>
<text transform="translate(1796.89,802.49) scale(1.1479,1)" font-family="'Liberation Sans', Arial, sans-serif" font-size="15.57" fill="#000">5</text>
<text transform="translate(1796.81,840.70) scale(1.1643,1)" font-family="'Liberation Sans', Arial, sans-serif" font-size="15.35" fill="#000">0</text>
<text transform="translate(2032.63,682.65) scale(1.1651,1)" font-family="'Liberation Sans', Arial, sans-serif" font-size="20.00" fill="#000" style="stroke-width:0.7px">#</text>
<text transform="translate(1834.47,878.70) scale(1.1231,1)" font-family="'Liberation Sans', Arial, sans-serif" font-size="19.29" fill="#000">NC</text>
<text transform="translate(1950.80,860.50) scale(1.0374,1)" font-family="'Liberation Sans', Arial, sans-serif" font-size="19.57" fill="#000">Amp</text>
<line x1="1895.20" y1="870.50" x2="2061.50" y2="870.50" stroke="#000" stroke-width="1.6"/>
<text transform="translate(1890.38,898.70) scale(1.0671,1)" font-family="'Liberation Sans', Arial, sans-serif" font-size="20.14" fill="#000">H<tspan font-size="13.29" dy="1.71">2</tspan><tspan dy="-1.71">O</tspan></text>
<text transform="translate(1944.15,898.70) scale(1.0709,1)" font-family="'Liberation Sans', Arial, sans-serif" font-size="20.43" fill="#000">LABL</text>
<text transform="translate(2004.10,898.70) scale(1.0426,1)" font-family="'Liberation Sans', Arial, sans-serif" font-size="20.43" fill="#000">LABH</text>
<text transform="translate(1879.64,735.79) scale(1.0473,1)" font-family="'Liberation Serif', 'Times New Roman', serif" font-size="24.11" fill="#000">*</text>
<text transform="translate(1891.87,733.35) scale(1.5254,1)" font-family="'Liberation Sans', Arial, sans-serif" font-size="24.26" fill="#000">,</text>
<text transform="translate(1879.48,753.04) scale(1.0820,1)" font-family="'Liberation Sans', Arial, sans-serif" font-style="italic" font-size="15.92" fill="#000">P<tspan font-style="normal">=0.062</tspan></text>
<text transform="translate(1758.40,800.50) rotate(-90) scale(0.9258,1)" font-family="'Liberation Sans', Arial, sans-serif" font-size="25.24" fill="#000">Abundance (%)</text>
<text transform="translate(1858.68,594.70) scale(1.0686,1)" font-family="'Liberation Sans', Arial, sans-serif" font-style="italic" font-size="28.84" fill="#000">Lactobacillus</text>
<text transform="translate(1898.02,1006.36) scale(1.0181,1)" font-family="'Liberation Serif', 'Times New Roman', serif" font-size="41.10" fill="#000" style="stroke-width:0px">(<tspan font-weight="bold">m</tspan>)</text>
</g>
<g id="panel-n">
<rect x="124.00" y="1308.70" width="40.60" height="16.20" fill="#000"/>
<line x1="144.50" y1="1309.20" x2="144.50" y2="1299.50" stroke="#000" stroke-width="1.3"/>
<line x1="134.10" y1="1299.50" x2="154.20" y2="1299.50" stroke="#000" stroke-width="1.3"/>
<rect x="185.10" y="1308.70" width="40.40" height="16.20" fill="#000"/>
<line x1="205.50" y1="1309.20" x2="205.50" y2="1291.50" stroke="#000" stroke-width="1.3"/>
<line x1="195.30" y1="1291.50" x2="216.60" y2="1291.50" stroke="#000" stroke-width="1.3"/>
<rect x="246.50" y="1299.00" width="41.90" height="25.90" fill="#000"/>
<line x1="267.50" y1="1299.50" x2="267.50" y2="1267.50" stroke="#000" stroke-width="1.3"/>
<line x1="256.90" y1="1267.50" x2="278.20" y2="1267.50" stroke="#000" stroke-width="1.3"/>
<rect x="307.70" y="1242.70" width="41.80" height="82.20" fill="#000"/>
<line x1="329.50" y1="1243.20" x2="329.50" y2="1184.50" stroke="#000" stroke-width="1.3"/>
<line x1="319.80" y1="1184.50" x2="339.60" y2="1184.50" stroke="#000" stroke-width="1.3"/>
<line x1="113.80" y1="1076.95" x2="113.80" y2="1324.90" stroke="#000" stroke-width="3.1"/>
<line x1="105.80" y1="1078.30" x2="113.80" y2="1078.30" stroke="#000" stroke-width="2.7"/>
<line x1="105.80" y1="1119.40" x2="113.80" y2="1119.40" stroke="#000" stroke-width="2.7"/>
<line x1="105.80" y1="1160.00" x2="113.80" y2="1160.00" stroke="#000" stroke-width="2.7"/>
<line x1="105.80" y1="1201.10" x2="113.80" y2="1201.10" stroke="#000" stroke-width="2.7"/>
<line x1="105.80" y1="1242.70" x2="113.80" y2="1242.70" stroke="#000" stroke-width="2.7"/>
<line x1="105.80" y1="1283.80" x2="113.80" y2="1283.80" stroke="#000" stroke-width="2.7"/>
<line x1="105.80" y1="1324.90" x2="113.80" y2="1324.90" stroke="#000" stroke-width="2.7"/>
<line x1="105.80" y1="1324.90" x2="360.90" y2="1324.90" stroke="#000" stroke-width="2.9"/>
<text transform="translate(68.36,1084.47) scale(1.0284,1)" font-family="'Liberation Sans', Arial, sans-serif" font-size="17.89" fill="#000">0.30</text>
<text transform="translate(68.46,1125.57) scale(1.0284,1)" font-family="'Liberation Sans', Arial, sans-serif" font-size="17.89" fill="#000">0.25</text>
<text transform="translate(68.36,1166.17) scale(1.0284,1)" font-family="'Liberation Sans', Arial, sans-serif" font-size="17.89" fill="#000">0.20</text>
<text transform="translate(68.46,1207.27) scale(1.0284,1)" font-family="'Liberation Sans', Arial, sans-serif" font-size="17.89" fill="#000">0.15</text>
<text transform="translate(68.36,1248.87) scale(1.0284,1)" font-family="'Liberation Sans', Arial, sans-serif" font-size="17.89" fill="#000">0.10</text>
<text transform="translate(68.46,1289.97) scale(1.0284,1)" font-family="'Liberation Sans', Arial, sans-serif" font-size="17.89" fill="#000">0.05</text>
<text transform="translate(68.36,1331.07) scale(1.0284,1)" font-family="'Liberation Sans', Arial, sans-serif" font-size="17.89" fill="#000">0.00</text>
<text transform="translate(308.32,1178.82) scale(0.8664,1)" font-family="'Liberation Serif', 'Times New Roman', serif" font-size="27.12" fill="#000">*</text>
<text transform="translate(333.13,1172.45) scale(1.1651,1)" font-family="'Liberation Sans', Arial, sans-serif" font-size="20.00" fill="#000" style="stroke-width:0.7px">#</text>
<text transform="translate(137.17,1369.70) scale(0.9446,1)" font-family="'Liberation Sans', Arial, sans-serif" font-size="21.57" fill="#000">NC</text>
<text transform="translate(247.70,1349.40) scale(0.9201,1)" font-family="'Liberation Sans', Arial, sans-serif" font-size="21.30" fill="#000">Amp</text>
<line x1="194.20" y1="1359.50" x2="353.90" y2="1359.50" stroke="#000" stroke-width="1.6"/>
<text transform="translate(189.65,1390.80) scale(0.9731,1)" font-family="'Liberation Sans', Arial, sans-serif" font-size="21.14" fill="#000">H<tspan font-size="13.95" dy="1.80">2</tspan><tspan dy="-1.80">O</tspan></text>
<text transform="translate(242.12,1390.80) scale(0.9784,1)" font-family="'Liberation Sans', Arial, sans-serif" font-size="21.45" fill="#000">LABL</text>
<text transform="translate(298.85,1390.80) scale(0.9591,1)" font-family="'Liberation Sans', Arial, sans-serif" font-size="21.45" fill="#000">LABH</text>
<text transform="translate(53.72,1285.60) rotate(-90) scale(1.0437,1)" font-family="'Liberation Sans', Arial, sans-serif" font-size="24.17" fill="#000">Abundance (%)</text>
<text transform="translate(210.92,1064.90) scale(0.9724,1)" font-family="'Liberation Sans', Arial, sans-serif" font-style="italic" font-size="30.00" fill="#000">Dorea</text>
<text transform="translate(193.97,1460.80) scale(1.0269,1)" font-family="'Liberation Serif', 'Times New Roman', serif" font-size="41.87" fill="#000" style="stroke-width:0px">(<tspan font-weight="bold">n</tspan>)</text>
</g>
<g id="panel-o">
<rect x="554.80" y="1222.10" width="40.40" height="99.90" fill="#000"/>
<line x1="574.50" y1="1222.60" x2="574.50" y2="1106.50" stroke="#000" stroke-width="1.3"/>
<line x1="564.50" y1="1106.50" x2="585.10" y2="1106.50" stroke="#000" stroke-width="1.3"/>
<rect x="616.00" y="1320.30" width="39.90" height="1.70" fill="#000"/>
<line x1="636.50" y1="1320.80" x2="636.50" y2="1318.50" stroke="#000" stroke-width="1.3"/>
<line x1="626.20" y1="1318.50" x2="646.70" y2="1318.50" stroke="#000" stroke-width="1.3"/>
<rect x="677.00" y="1321.30" width="40.60" height="0.70" fill="#000"/>
<line x1="697.50" y1="1321.80" x2="697.50" y2="1319.50" stroke="#000" stroke-width="1.3"/>
<line x1="687.10" y1="1319.50" x2="707.90" y2="1319.50" stroke="#000" stroke-width="1.3"/>
<rect x="738.10" y="1307.00" width="41.10" height="15.00" fill="#000"/>
<line x1="759.50" y1="1307.50" x2="759.50" y2="1299.50" stroke="#000" stroke-width="1.3"/>
<line x1="749.00" y1="1299.50" x2="769.30" y2="1299.50" stroke="#000" stroke-width="1.3"/>
<line x1="544.70" y1="1075.95" x2="544.70" y2="1322.00" stroke="#000" stroke-width="3.1"/>
<line x1="536.20" y1="1077.30" x2="544.70" y2="1077.30" stroke="#000" stroke-width="2.7"/>
<line x1="536.20" y1="1126.60" x2="544.70" y2="1126.60" stroke="#000" stroke-width="2.7"/>
<line x1="536.20" y1="1175.20" x2="544.70" y2="1175.20" stroke="#000" stroke-width="2.7"/>
<line x1="536.20" y1="1224.10" x2="544.70" y2="1224.10" stroke="#000" stroke-width="2.7"/>
<line x1="536.20" y1="1272.90" x2="544.70" y2="1272.90" stroke="#000" stroke-width="2.7"/>
<line x1="536.20" y1="1322.00" x2="544.70" y2="1322.00" stroke="#000" stroke-width="2.7"/>
<line x1="536.20" y1="1322.00" x2="790.60" y2="1322.00" stroke="#000" stroke-width="2.9"/>
<text transform="translate(509.06,1083.33) scale(1.0791,1)" font-family="'Liberation Sans', Arial, sans-serif" font-size="17.46" fill="#000">2.5</text>
<text transform="translate(508.96,1132.63) scale(1.0791,1)" font-family="'Liberation Sans', Arial, sans-serif" font-size="17.46" fill="#000">2.0</text>
<text transform="translate(509.06,1181.22) scale(1.0639,1)" font-family="'Liberation Sans', Arial, sans-serif" font-size="17.71" fill="#000">1.5</text>
<text transform="translate(508.96,1230.13) scale(1.0791,1)" font-family="'Liberation Sans', Arial, sans-serif" font-size="17.46" fill="#000">1.0</text>
<text transform="translate(509.06,1278.93) scale(1.0791,1)" font-family="'Liberation Sans', Arial, sans-serif" font-size="17.46" fill="#000">0.5</text>
<text transform="translate(508.96,1328.03) scale(1.0791,1)" font-family="'Liberation Sans', Arial, sans-serif" font-size="17.46" fill="#000">0.0</text>
<text transform="translate(735.73,1286.55) scale(1.1651,1)" font-family="'Liberation Sans', Arial, sans-serif" font-size="20.00" fill="#000" style="stroke-width:0.7px">#</text>
<text transform="translate(757.95,1286.50) scale(1.0877,1)" font-family="'Liberation Sans', Arial, sans-serif" font-size="19.71" fill="#000" style="stroke-width:0px">Ψ</text>
<text transform="translate(561.87,1367.80) scale(0.9573,1)" font-family="'Liberation Sans', Arial, sans-serif" font-size="21.29" fill="#000">NC</text>
<text transform="translate(672.10,1347.00) scale(0.8764,1)" font-family="'Liberation Sans', Arial, sans-serif" font-size="22.03" fill="#000">Amp</text>
<line x1="619.00" y1="1357.50" x2="777.70" y2="1357.50" stroke="#000" stroke-width="1.6"/>
<text transform="translate(613.41,1387.70) scale(1.0210,1)" font-family="'Liberation Sans', Arial, sans-serif" font-size="20.71" fill="#000">H<tspan font-size="13.67" dy="1.76">2</tspan><tspan dy="-1.76">O</tspan></text>
<text transform="translate(666.33,1387.70) scale(0.9925,1)" font-family="'Liberation Sans', Arial, sans-serif" font-size="21.01" fill="#000">LABL</text>
<text transform="translate(722.04,1387.70) scale(0.9847,1)" font-family="'Liberation Sans', Arial, sans-serif" font-size="21.01" fill="#000">LABH</text>
<text transform="translate(481.10,1283.10) rotate(-90) scale(0.9954,1)" font-family="'Liberation Sans', Arial, sans-serif" font-size="25.24" fill="#000">Abundance (%)</text>
<text transform="translate(577.21,1065.40) scale(1.0389,1)" font-family="'Liberation Sans', Arial, sans-serif" font-style="italic" font-size="28.41" fill="#000">Desulfovibrio</text>
<text transform="translate(622.37,1460.80) scale(1.0261,1)" font-family="'Liberation Serif', 'Times New Roman', serif" font-size="41.87" fill="#000" style="stroke-width:0px">(<tspan font-weight="bold">o</tspan>)</text>
</g>
<g id="panel-p">
<rect x="970.70" y="1200.40" width="39.90" height="119.70" fill="#000"/>
<line x1="990.50" y1="1200.90" x2="990.50" y2="1120.50" stroke="#000" stroke-width="1.3"/>
<line x1="980.90" y1="1120.50" x2="1000.70" y2="1120.50" stroke="#000" stroke-width="1.3"/>
<rect x="1031.20" y="1311.60" width="39.90" height="8.50" fill="#000"/>
<line x1="1051.50" y1="1312.10" x2="1051.50" y2="1306.50" stroke="#000" stroke-width="1.3"/>
<line x1="1041.30" y1="1306.50" x2="1062.40" y2="1306.50" stroke="#000" stroke-width="1.3"/>
<rect x="1091.40" y="1274.40" width="41.30" height="45.70" fill="#000"/>
<line x1="1112.50" y1="1274.90" x2="1112.50" y2="1232.50" stroke="#000" stroke-width="1.3"/>
<line x1="1101.80" y1="1232.50" x2="1122.80" y2="1232.50" stroke="#000" stroke-width="1.3"/>
<rect x="1152.10" y="1231.30" width="41.10" height="88.80" fill="#000"/>
<line x1="1173.50" y1="1231.80" x2="1173.50" y2="1208.50" stroke="#000" stroke-width="1.3"/>
<line x1="1163.00" y1="1208.50" x2="1183.30" y2="1208.50" stroke="#000" stroke-width="1.3"/>
<line x1="961.10" y1="1078.85" x2="961.10" y2="1320.10" stroke="#000" stroke-width="3.1"/>
<line x1="953.10" y1="1080.20" x2="961.10" y2="1080.20" stroke="#000" stroke-width="2.7"/>
<line x1="953.10" y1="1140.20" x2="961.10" y2="1140.20" stroke="#000" stroke-width="2.7"/>
<line x1="953.10" y1="1199.90" x2="961.10" y2="1199.90" stroke="#000" stroke-width="2.7"/>
<line x1="953.10" y1="1259.90" x2="961.10" y2="1259.90" stroke="#000" stroke-width="2.7"/>
<line x1="953.10" y1="1320.10" x2="961.10" y2="1320.10" stroke="#000" stroke-width="2.7"/>
<line x1="953.10" y1="1320.10" x2="1203.80" y2="1320.10" stroke="#000" stroke-width="2.9"/>
<text transform="translate(916.09,1085.93) scale(1.0682,1)" font-family="'Liberation Sans', Arial, sans-serif" font-size="16.62" fill="#000">0.20</text>
<text transform="translate(916.18,1145.93) scale(1.0682,1)" font-family="'Liberation Sans', Arial, sans-serif" font-size="16.62" fill="#000">0.15</text>
<text transform="translate(916.09,1205.63) scale(1.0682,1)" font-family="'Liberation Sans', Arial, sans-serif" font-size="16.62" fill="#000">0.10</text>
<text transform="translate(916.18,1265.63) scale(1.0682,1)" font-family="'Liberation Sans', Arial, sans-serif" font-size="16.62" fill="#000">0.05</text>
<text transform="translate(916.09,1325.83) scale(1.0682,1)" font-family="'Liberation Sans', Arial, sans-serif" font-size="16.62" fill="#000">0.00</text>
<text transform="translate(1045.62,1303.42) scale(0.8664,1)" font-family="'Liberation Serif', 'Times New Roman', serif" font-size="27.12" fill="#000">*</text>
<text transform="translate(1166.13,1199.05) scale(1.1651,1)" font-family="'Liberation Sans', Arial, sans-serif" font-size="20.00" fill="#000" style="stroke-width:0.7px">#</text>
<text transform="translate(981.91,1376.70) scale(0.9892,1)" font-family="'Liberation Sans', Arial, sans-serif" font-size="20.14" fill="#000">NC</text>
<text transform="translate(1092.10,1357.10) scale(0.9386,1)" font-family="'Liberation Sans', Arial, sans-serif" font-size="20.14" fill="#000">Amp</text>
<line x1="1039.20" y1="1366.50" x2="1196.30" y2="1366.50" stroke="#000" stroke-width="1.6"/>
<text transform="translate(1034.47,1397.00) scale(1.0100,1)" font-family="'Liberation Sans', Arial, sans-serif" font-size="20.14" fill="#000">H<tspan font-size="13.29" dy="1.71">2</tspan><tspan dy="-1.71">O</tspan></text>
<text transform="translate(1085.46,1397.00) scale(1.0018,1)" font-family="'Liberation Sans', Arial, sans-serif" font-size="20.43" fill="#000">LABL</text>
<text transform="translate(1142.09,1397.00) scale(0.9847,1)" font-family="'Liberation Sans', Arial, sans-serif" font-size="20.43" fill="#000">LABH</text>
<text transform="translate(898.76,1294.90) rotate(-90) scale(1.0067,1)" font-family="'Liberation Sans', Arial, sans-serif" font-size="24.49" fill="#000">Abundance (%)</text>
<text transform="translate(914.13,1056.90) scale(1.0232,1)" font-family="'Liberation Sans', Arial, sans-serif" font-style="italic" font-size="28.26" fill="#000">Lactobacillus (unidentified)</text>
<text transform="translate(1044.67,1460.80) scale(1.0269,1)" font-family="'Liberation Serif', 'Times New Roman', serif" font-size="41.87" fill="#000" style="stroke-width:0px">(<tspan font-weight="bold">p</tspan>)</text>
</g>
<g id="panel-q">
<rect x="1412.10" y="1237.40" width="38.70" height="79.80" fill="#000"/>
<line x1="1431.50" y1="1237.90" x2="1431.50" y2="1146.50" stroke="#000" stroke-width="1.3"/>
<line x1="1421.80" y1="1146.50" x2="1441.10" y2="1146.50" stroke="#000" stroke-width="1.3"/>
<rect x="1470.90" y="1314.70" width="37.90" height="2.50" fill="#000"/>
<rect x="1531.50" y="1316.20" width="38.00" height="1.00" fill="#000"/>
<line x1="1547.50" y1="1316.70" x2="1547.50" y2="1314.50" stroke="#000" stroke-width="1.3"/>
<line x1="1537.10" y1="1314.50" x2="1557.90" y2="1314.50" stroke="#000" stroke-width="1.3"/>
<rect x="1586.20" y="1305.60" width="39.20" height="11.60" fill="#000"/>
<line x1="1605.50" y1="1306.10" x2="1605.50" y2="1298.50" stroke="#000" stroke-width="1.3"/>
<line x1="1595.90" y1="1298.50" x2="1615.70" y2="1298.50" stroke="#000" stroke-width="1.3"/>
<line x1="1402.40" y1="1083.25" x2="1402.40" y2="1317.20" stroke="#000" stroke-width="3.1"/>
<line x1="1394.00" y1="1084.60" x2="1402.40" y2="1084.60" stroke="#000" stroke-width="2.7"/>
<line x1="1394.00" y1="1123.30" x2="1402.40" y2="1123.30" stroke="#000" stroke-width="2.7"/>
<line x1="1394.00" y1="1161.70" x2="1402.40" y2="1161.70" stroke="#000" stroke-width="2.7"/>
<line x1="1394.00" y1="1200.40" x2="1402.40" y2="1200.40" stroke="#000" stroke-width="2.7"/>
<line x1="1394.00" y1="1239.30" x2="1402.40" y2="1239.30" stroke="#000" stroke-width="2.7"/>
<line x1="1394.00" y1="1278.00" x2="1402.40" y2="1278.00" stroke="#000" stroke-width="2.7"/>
<line x1="1394.00" y1="1317.20" x2="1402.40" y2="1317.20" stroke="#000" stroke-width="2.7"/>
<line x1="1394.00" y1="1317.20" x2="1636.20" y2="1317.20" stroke="#000" stroke-width="2.9"/>
<text transform="translate(1350.72,1090.38) scale(1.0087,1)" font-family="'Liberation Sans', Arial, sans-serif" font-size="16.76" fill="#000">0.030</text>
<text transform="translate(1350.81,1129.08) scale(1.0087,1)" font-family="'Liberation Sans', Arial, sans-serif" font-size="16.76" fill="#000">0.025</text>
<text transform="translate(1350.72,1167.48) scale(1.0087,1)" font-family="'Liberation Sans', Arial, sans-serif" font-size="16.76" fill="#000">0.020</text>
<text transform="translate(1350.81,1206.18) scale(1.0087,1)" font-family="'Liberation Sans', Arial, sans-serif" font-size="16.76" fill="#000">0.015</text>
<text transform="translate(1350.72,1245.08) scale(1.0087,1)" font-family="'Liberation Sans', Arial, sans-serif" font-size="16.76" fill="#000">0.010</text>
<text transform="translate(1350.81,1283.78) scale(1.0087,1)" font-family="'Liberation Sans', Arial, sans-serif" font-size="16.76" fill="#000">0.005</text>
<text transform="translate(1350.72,1322.98) scale(1.0087,1)" font-family="'Liberation Sans', Arial, sans-serif" font-size="16.76" fill="#000">0.000</text>
<text transform="translate(1584.53,1290.15) scale(1.1651,1)" font-family="'Liberation Sans', Arial, sans-serif" font-size="20.00" fill="#000" style="stroke-width:0.7px">#</text>
<text transform="translate(1605.55,1288.90) scale(1.0877,1)" font-family="'Liberation Sans', Arial, sans-serif" font-size="19.71" fill="#000" style="stroke-width:0px">Ψ</text>
<text transform="translate(1428.76,1371.70) scale(0.9979,1)" font-family="'Liberation Sans', Arial, sans-serif" font-size="19.29" fill="#000">NC</text>
<text transform="translate(1533.80,1352.90) scale(0.9248,1)" font-family="'Liberation Sans', Arial, sans-serif" font-size="19.86" fill="#000">Amp</text>
<line x1="1482.20" y1="1362.50" x2="1633.00" y2="1362.50" stroke="#000" stroke-width="1.6"/>
<text transform="translate(1478.83,1391.60) scale(0.9729,1)" font-family="'Liberation Sans', Arial, sans-serif" font-size="20.14" fill="#000">H<tspan font-size="13.29" dy="1.71">2</tspan><tspan dy="-1.71">O</tspan></text>
<text transform="translate(1527.83,1391.60) scale(0.9599,1)" font-family="'Liberation Sans', Arial, sans-serif" font-size="20.43" fill="#000">LABL</text>
<text transform="translate(1581.05,1391.60) scale(0.9488,1)" font-family="'Liberation Sans', Arial, sans-serif" font-size="20.43" fill="#000">LABH</text>
<text transform="translate(1323.80,1291.10) rotate(-90) scale(1.0135,1)" font-family="'Liberation Sans', Arial, sans-serif" font-size="23.32" fill="#000">Abundance (%)</text>
<text transform="translate(1406.98,1062.60) scale(1.0079,1)" font-family="'Liberation Sans', Arial, sans-serif" font-style="italic" font-size="27.25" fill="#000">Desulfovibrio C21_c20</text>
<text transform="translate(1471.17,1460.80) scale(1.0269,1)" font-family="'Liberation Serif', 'Times New Roman', serif" font-size="41.87" fill="#000" style="stroke-width:0px">(<tspan font-weight="bold">q</tspan>)</text>
</g>
<g id="panel-r">
<rect x="1830.00" y="1233.00" width="41.60" height="86.10" fill="#000"/>
<line x1="1850.50" y1="1233.50" x2="1850.50" y2="1186.50" stroke="#000" stroke-width="1.3"/>
<line x1="1840.40" y1="1186.50" x2="1861.00" y2="1186.50" stroke="#000" stroke-width="1.3"/>
<rect x="1892.10" y="1260.30" width="41.90" height="58.80" fill="#000"/>
<line x1="1913.50" y1="1260.80" x2="1913.50" y2="1210.50" stroke="#000" stroke-width="1.3"/>
<line x1="1902.50" y1="1210.50" x2="1923.60" y2="1210.50" stroke="#000" stroke-width="1.3"/>
<rect x="1955.00" y="1155.20" width="42.60" height="163.90" fill="#000"/>
<line x1="1975.50" y1="1155.70" x2="1975.50" y2="1095.50" stroke="#000" stroke-width="1.3"/>
<line x1="1964.70" y1="1095.50" x2="1987.20" y2="1095.50" stroke="#000" stroke-width="1.3"/>
<rect x="2017.40" y="1186.60" width="42.30" height="132.50" fill="#000"/>
<line x1="2039.50" y1="1187.10" x2="2039.50" y2="1148.50" stroke="#000" stroke-width="1.3"/>
<line x1="2029.50" y1="1148.50" x2="2049.30" y2="1148.50" stroke="#000" stroke-width="1.3"/>
<line x1="1819.10" y1="1077.65" x2="1819.10" y2="1319.10" stroke="#000" stroke-width="3.1"/>
<line x1="1810.70" y1="1079.00" x2="1819.10" y2="1079.00" stroke="#000" stroke-width="2.7"/>
<line x1="1810.70" y1="1127.90" x2="1819.10" y2="1127.90" stroke="#000" stroke-width="2.7"/>
<line x1="1810.70" y1="1175.20" x2="1819.10" y2="1175.20" stroke="#000" stroke-width="2.7"/>
<line x1="1810.70" y1="1223.40" x2="1819.10" y2="1223.40" stroke="#000" stroke-width="2.7"/>
<line x1="1810.70" y1="1271.20" x2="1819.10" y2="1271.20" stroke="#000" stroke-width="2.7"/>
<line x1="1810.70" y1="1319.10" x2="1819.10" y2="1319.10" stroke="#000" stroke-width="2.7"/>
<line x1="1810.70" y1="1319.10" x2="2071.10" y2="1319.10" stroke="#000" stroke-width="2.9"/>
<text transform="translate(1783.75,1084.73) scale(1.1253,1)" font-family="'Liberation Sans', Arial, sans-serif" font-size="16.62" fill="#000">0.5</text>
<text transform="translate(1783.56,1133.63) scale(1.1253,1)" font-family="'Liberation Sans', Arial, sans-serif" font-size="16.62" fill="#000">0.4</text>
<text transform="translate(1783.75,1180.93) scale(1.1253,1)" font-family="'Liberation Sans', Arial, sans-serif" font-size="16.62" fill="#000">0.3</text>
<text transform="translate(1783.94,1229.13) scale(1.1253,1)" font-family="'Liberation Sans', Arial, sans-serif" font-size="16.62" fill="#000">0.2</text>
<text transform="translate(1783.85,1276.93) scale(1.1253,1)" font-family="'Liberation Sans', Arial, sans-serif" font-size="16.62" fill="#000">0.1</text>
<text transform="translate(1783.66,1324.83) scale(1.1253,1)" font-family="'Liberation Sans', Arial, sans-serif" font-size="16.62" fill="#000">0.0</text>
<text transform="translate(1960.53,1089.82) scale(0.8664,1)" font-family="'Liberation Serif', 'Times New Roman', serif" font-size="27.12" fill="#000">*</text>
<text transform="translate(1979.03,1084.65) scale(1.1651,1)" font-family="'Liberation Sans', Arial, sans-serif" font-size="20.00" fill="#000" style="stroke-width:0.7px">#</text>
<text transform="translate(2033.13,1139.55) scale(1.1651,1)" font-family="'Liberation Sans', Arial, sans-serif" font-size="20.00" fill="#000" style="stroke-width:0.7px">#</text>
<text transform="translate(1835.65,1376.30) scale(1.0527,1)" font-family="'Liberation Sans', Arial, sans-serif" font-size="19.57" fill="#000">NC</text>
<text transform="translate(1948.80,1356.70) scale(0.9655,1)" font-family="'Liberation Sans', Arial, sans-serif" font-size="20.87" fill="#000">Amp</text>
<line x1="1893.40" y1="1366.50" x2="2055.90" y2="1366.50" stroke="#000" stroke-width="1.6"/>
<text transform="translate(1889.30,1396.60) scale(1.0557,1)" font-family="'Liberation Sans', Arial, sans-serif" font-size="20.14" fill="#000">H<tspan font-size="13.29" dy="1.71">2</tspan><tspan dy="-1.71">O</tspan></text>
<text transform="translate(1942.40,1396.60) scale(1.0395,1)" font-family="'Liberation Sans', Arial, sans-serif" font-size="20.43" fill="#000">LABL</text>
<text transform="translate(1999.72,1396.60) scale(1.0267,1)" font-family="'Liberation Sans', Arial, sans-serif" font-size="20.43" fill="#000">LABH</text>
<text transform="translate(1760.56,1293.60) rotate(-90) scale(1.0067,1)" font-family="'Liberation Sans', Arial, sans-serif" font-size="24.49" fill="#000">Abundance (%)</text>
<text transform="translate(1897.42,1054.90) scale(1.0218,1)" font-family="'Liberation Sans', Arial, sans-serif" font-style="italic" font-size="28.57" fill="#000">S24-7</text>
<text transform="translate(1908.18,1460.80) scale(0.9132,1)" font-family="'Liberation Serif', 'Times New Roman', serif" font-size="41.87" fill="#000" style="stroke-width:0px">(<tspan font-weight="bold">r</tspan>)</text>
</g>
</svg>
</body></html>
